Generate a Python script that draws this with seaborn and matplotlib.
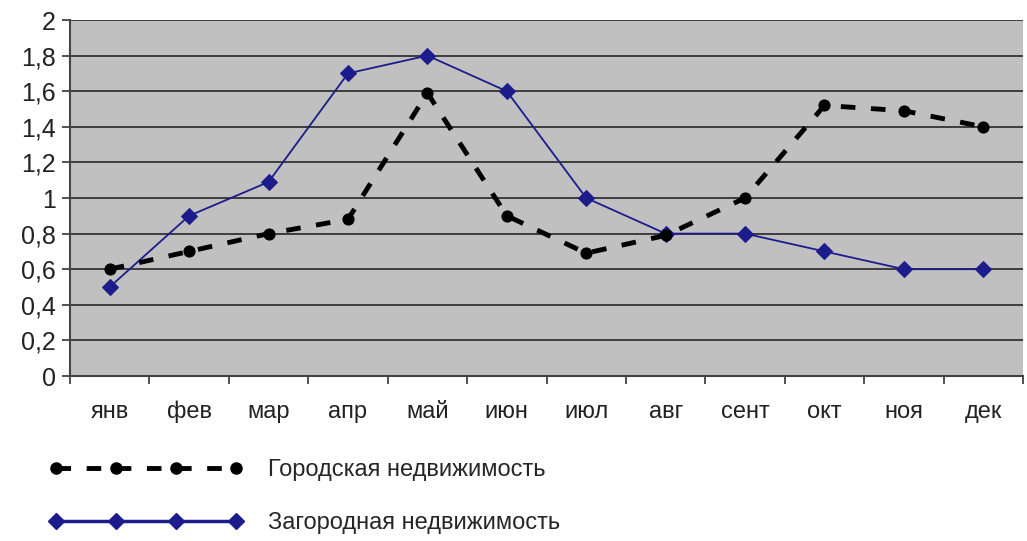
import matplotlib
matplotlib.use("Agg")
import matplotlib.pyplot as plt
from matplotlib.lines import Line2D
from matplotlib.ticker import FixedLocator, FuncFormatter
import seaborn as sns
import pandas as pd

months = ["янв", "фев", "мар", "апр", "май", "июн", "июл", "авг", "сент", "окт", "ноя", "дек"]
urban = [0.6, 0.7, 0.8, 0.88, 1.59, 0.9, 0.69, 0.79, 1.0, 1.52, 1.49, 1.4]
suburban = [0.5, 0.9, 1.09, 1.7, 1.8, 1.6, 1.0, 0.8, 0.8, 0.7, 0.6, 0.6]
label_urban = "Городская недвижимость"
label_suburban = "Загородная недвижимость"
y_ticks = [0, 0.2, 0.4, 0.6, 0.8, 1.0, 1.2, 1.4, 1.6, 1.8, 2.0]

sns.set_theme(style="white")
plt.rcParams["font.family"] = ["Liberation Sans", "DejaVu Sans"]

df = pd.DataFrame({"month": months, "urban": urban, "suburban": suburban})
df["pos"] = range(len(months))

fig = plt.figure(figsize=(10.27, 5.41), dpi=100)
ax = fig.add_axes([70 / 1027, 1 - 376 / 541, (1023 - 70) / 1027, (376 - 20) / 541])
ax.set_facecolor("#c0c0c0")

blue = "#1c1c8c"
sns.lineplot(data=df, x="pos", y="suburban", ax=ax, color=blue, lw=1.3,
             marker="D", markersize=8, markeredgecolor=blue, markerfacecolor=blue,
             zorder=3, sort=False)
sns.lineplot(data=df, x="pos", y="urban", ax=ax, color="black", lw=3.5,
             dashes=(3, 3.2), marker="o", markersize=8, markeredgecolor="black",
             markerfacecolor="black", zorder=4, sort=False)

ax.set_xlim(-0.5, len(months) - 0.5)
ax.set_ylim(0, 2)
ax.set_xlabel("")
ax.set_ylabel("")

ax.xaxis.set_major_locator(FixedLocator(list(range(len(months)))))
ax.set_xticklabels(months)
ax.xaxis.set_minor_locator(FixedLocator([i + 0.5 for i in range(-1, len(months))]))
ax.tick_params(axis="x", which="major", length=0, pad=30, labelsize=17, labelcolor="#222222")
ax.tick_params(axis="x", which="minor", length=6, width=1.2, color="#333333", direction="out", bottom=True)
for lbl in ax.get_xticklabels():
    lbl.set_verticalalignment("baseline")

ax.set_yticks(y_ticks)
ax.yaxis.set_major_formatter(FuncFormatter(lambda v, p: ("%g" % round(v, 1)).replace(".", ",")))
ax.tick_params(axis="y", which="major", length=6, width=1.2, color="#333333", direction="out",
               left=True, labelsize=18, labelcolor="#222222", pad=4)

ax.grid(axis="y", color="#333333", lw=1.3)
ax.grid(axis="x", visible=False)
ax.set_axisbelow(True)

for s in ["top", "right"]:
    ax.spines[s].set_visible(False)
for s in ["left", "bottom"]:
    ax.spines[s].set_color("#444444")
    ax.spines[s].set_linewidth(1.5)

handles = [
    Line2D([0], [0], color="black", lw=3.5, dashes=(3, 3.2), marker="o", markersize=8,
           markerfacecolor="black", markeredgecolor="black"),
    Line2D([0], [0], color=blue, lw=2.5, marker="D", markersize=8,
           markerfacecolor=blue, markeredgecolor=blue),
]
fig.legend(handles, [label_urban, label_suburban], loc="upper left",
           bbox_to_anchor=(28 / 1027, 1 - 438 / 541), frameon=False, numpoints=4,
           handlelength=8.2, handletextpad=1.05, labelspacing=1.3,
           prop={"family": ["Liberation Sans Narrow", "Liberation Sans", "DejaVu Sans"], "size": 17})

fig.savefig("out.png", dpi=100)
